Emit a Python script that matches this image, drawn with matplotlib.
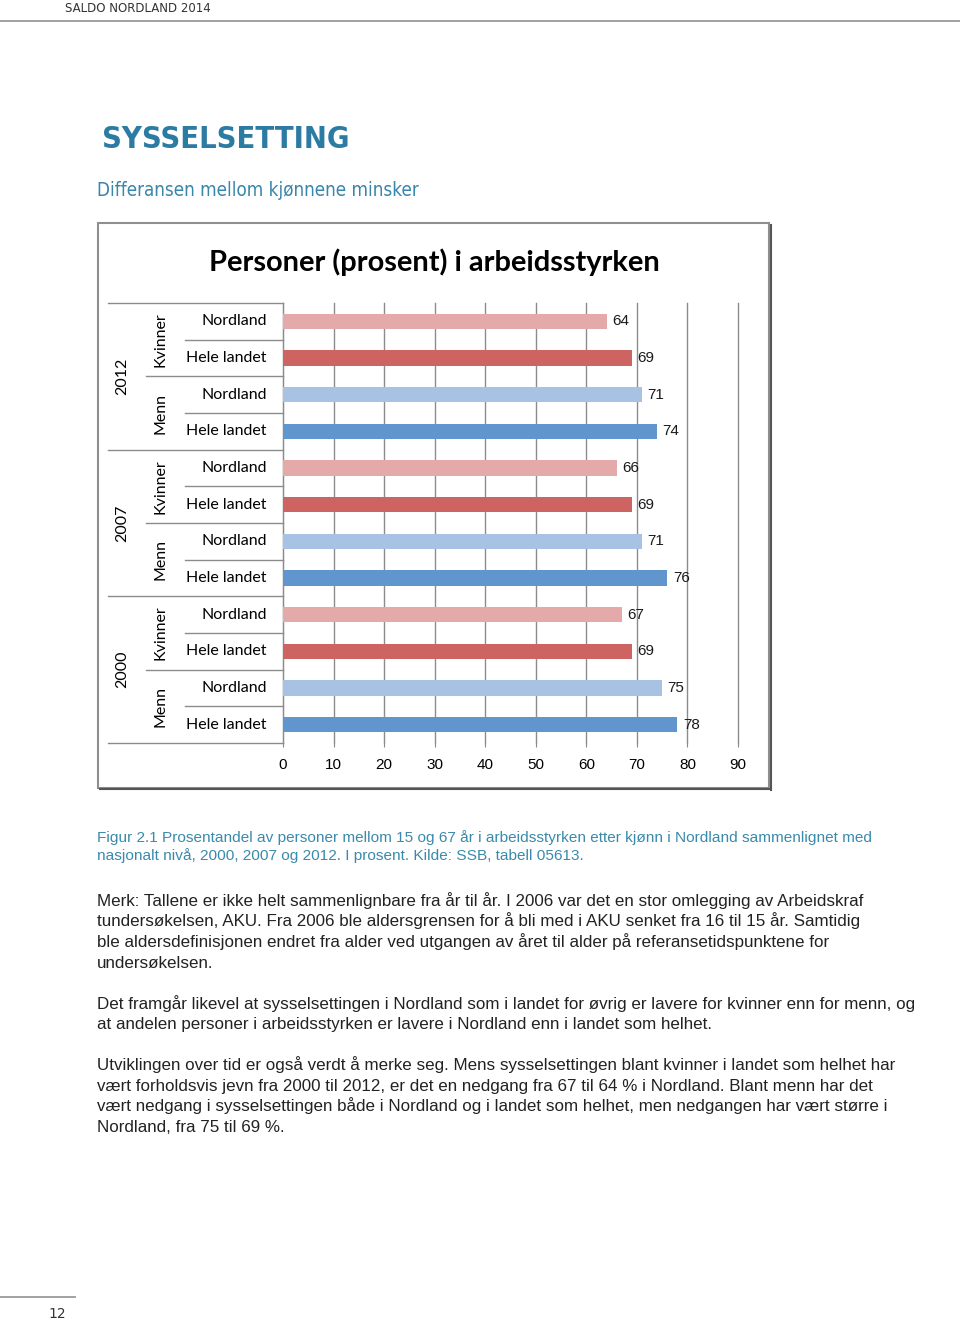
import matplotlib
matplotlib.use('Agg')
import matplotlib.pyplot as plt
from matplotlib.patches import Rectangle
from matplotlib.lines import Line2D

# page size in pixels
W, H = 960, 1322

# chart data, top row first
years = ['2012', '2007', '2000']
genders = ['Kvinner', 'Menn']
places = ['Nordland', 'Hele landet']
values = [64, 69, 71, 74,
          66, 69, 71, 76,
          67, 69, 75, 78]
xticks = [0, 10, 20, 30, 40, 50, 60, 70, 80, 90]
# Kvinner Nordland, Kvinner Hele landet, Menn Nordland, Menn Hele landet
bar_colors = ['#e3aaa9', '#cd6461', '#a8c2e4', '#6195cd']

title = 'Personer (prosent) i arbeidsstyrken'
caption = ['Figur 2.1 Prosentandel av personer mellom 15 og 67 år i arbeidsstyrken etter kjønn i Nordland sammenlignet med',
           'nasjonalt nivå, 2000, 2007 og 2012. I prosent. Kilde: SSB, tabell 05613.']
body = [
    ('Merk: Tallene er ikke helt sammenlignbare fra år til år. I 2006 var det en stor omlegging av Arbeidskraf', 901),
    ('tundersøkelsen, AKU. Fra 2006 ble aldersgrensen for å bli med i AKU senket fra 16 til 15 år. Samtidig', 921),
    ('ble aldersdefinisjonen endret fra alder ved utgangen av året til alder på referansetidspunktene for', 942),
    ('undersøkelsen.', 963),
    ('Det framgår likevel at sysselsettingen i Nordland som i landet for øvrig er lavere for kvinner enn for menn, og', 1004),
    ('at andelen personer i arbeidsstyrken er lavere i Nordland enn i landet som helhet.', 1024),
    ('Utviklingen over tid er også verdt å merke seg. Mens sysselsettingen blant kvinner i landet som helhet har', 1065),
    ('vært forholdsvis jevn fra 2000 til 2012, er det en nedgang fra 67 til 64 % i Nordland. Blant menn har det', 1086),
    ('vært nedgang i sysselsettingen både i Nordland og i landet som helhet, men nedgangen har vært større i', 1106),
    ('Nordland, fra 75 til 69 %.', 1127),
]

teal = '#2b7ba3'
grid_c = '#8c8c8c'

fig = plt.figure(figsize=(W / 100, H / 100), dpi=100)
renderer = fig.canvas.get_renderer()


def fx(x):
    return x / W


def fy(y):
    return 1 - y / H


def txt(x, y, s, width=None, **kw):
    # put text at pixel position, optionally scale the font to a pixel width
    t = fig.text(fx(x), fy(y), s, va='center', **kw)
    if width:
        w = t.get_window_extent(renderer).width
        t.set_fontsize(t.get_fontsize() * width / w)
    return t


# header
txt(65, 8, 'SALDO NORDLAND 2014', width=146, family='DejaVu Sans', color='#333333', fontsize=9)
fig.add_artist(Line2D([0, 1], [fy(21), fy(21)], color='#9a9a9a', lw=1.3))

txt(102, 140, 'SYSSELSETTING', width=248, family='DejaVu Sans', stretch='condensed',
    weight='bold', color=teal, fontsize=24)
txt(97, 190, 'Differansen mellom kjønnene minsker', width=323, family='DejaVu Sans',
    stretch='condensed', color='#3a86aa', fontsize=13)

# chart frame with shadow
fig.add_artist(Rectangle((fx(98), fy(788)), fx(769) - fx(98), (788 - 223) / H,
                         transform=fig.transFigure, fill=False, ec='#8f8f8f', lw=1.5))
fig.add_artist(Line2D([fx(770.5), fx(770.5)], [fy(790), fy(225)], color='#555555', lw=1.5))
fig.add_artist(Line2D([fx(100), fx(770.5)], [fy(789.5), fy(789.5)], color='#555555', lw=1.5))

t = txt(434, 262, title, width=452, family='Lato', weight='bold', color='black', fontsize=20)
t.set_ha('center')

# bar chart
x0, x1, ytop, ybot = 283, 738, 303, 743
ax = fig.add_axes([fx(x0), fy(ybot), fx(x1) - fx(x0), (ybot - ytop) / H])
rows = list(range(len(values)))
colors = [bar_colors[i % 4] for i in rows]
ax.barh(rows, values, height=0.42, color=colors, zorder=3)
ax.set_xlim(0, 90)
ax.set_ylim(len(values) - 0.5, -0.5)
ax.set_xticks(xticks)
ax.set_xticklabels([str(v) for v in xticks], family='Liberation Sans', fontsize=11)
ax.set_yticks([])
ax.grid(axis='x', color=grid_c, lw=1)
for gl in ax.get_xgridlines():
    gl.set_clip_on(False)
ax.set_axisbelow(True)
for s in ['top', 'right', 'bottom']:
    ax.spines[s].set_visible(False)
ax.spines['left'].set_color(grid_c)
ax.tick_params(axis='x', length=3, color=grid_c, pad=8)

for i, v in enumerate(values):
    ax.annotate(str(v), (v, i), xytext=(4, 0), textcoords='offset points',
                va='center', ha='left', family='Liberation Sans', fontsize=11, color='#1a1a1a')

# multi level category axis
tr = ax.get_yaxis_transform()


def axx(px):
    return (px - x0) / (x1 - x0)


for i, v in enumerate(values):
    ax.text(axx(267), i, places[i % 2], transform=tr, ha='right', va='center',
            family='Lato', fontsize=11.5)
for g in range(len(values) // 2):
    ax.text(axx(160), g * 2 + 0.5, genders[g % 2], transform=tr, ha='center', va='center',
            rotation=90, family='Lato', fontsize=11.5)
for k, yr in enumerate(years):
    ax.text(axx(122), k * 4 + 1.5, yr, transform=tr, ha='center', va='center',
            rotation=90, family='Lato', fontsize=11.5)

for k in range(len(values) + 1):
    yb = k - 0.5
    if k % 4 == 0:
        start = 108
    elif k % 2 == 0:
        start = 146
    else:
        start = 185
    ax.plot([axx(start), 0], [yb, yb], transform=tr, color=grid_c, lw=1, clip_on=False)

# caption
c1 = txt(97, 838, caption[0], width=775, family=['Liberation Sans Narrow', 'Liberation Sans'],
         color='#3a8aab', fontsize=11)
txt(97, 856, caption[1], family=['Liberation Sans Narrow', 'Liberation Sans'],
    color='#3a8aab', fontsize=c1.get_fontsize())

# body text, one size for all lines, fitted on the longest one
probe = txt(97, 1004, body[4][0], width=821, family='Liberation Sans', color='#222222', fontsize=12)
size = probe.get_fontsize()
probe.remove()
for line, yy in body:
    txt(97, yy, line, family='Liberation Sans', color='#222222', fontsize=size)

# footer
fig.add_artist(Line2D([0, fx(75)], [fy(1297), fy(1297)], color='#9a9a9a', lw=1.3))
t = txt(57, 1314, '12', family='DejaVu Sans', color='#333333', fontsize=10)
t.set_ha('center')

fig.savefig('out.png', dpi=100)
